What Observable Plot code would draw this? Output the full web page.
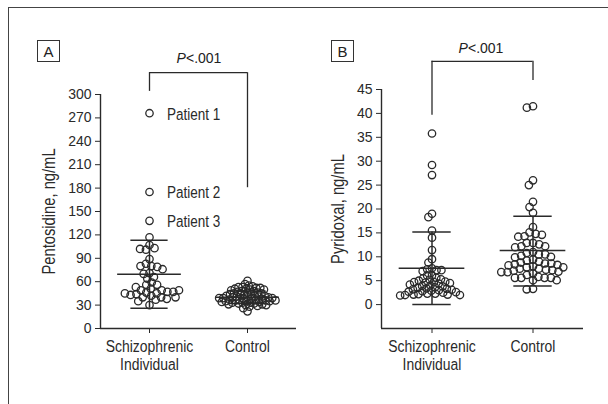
<!DOCTYPE html>
<html><head><meta charset="utf-8">
<script src="https://cdn.jsdelivr.net/npm/d3@7"></script>
<script src="https://cdn.jsdelivr.net/npm/@observablehq/plot@0.6"></script>
<style>
body{margin:0;background:#fff;}
#wrap{position:relative;width:608px;height:404px;overflow:hidden;color:#222;}
#frame{position:absolute;left:8px;top:7px;width:640px;height:440px;border-left:1.6px solid #444;border-top:1.6px solid #444;}
.panel{position:absolute;top:0;}
.box{position:absolute;top:40px;width:21px;height:20px;border:1px solid #333;font-family:"Liberation Sans",Arial,sans-serif;font-size:15px;text-align:center;line-height:21px;}
.ptxt{position:absolute;font-family:"Liberation Sans",Arial,sans-serif;font-size:14px;line-height:14px;transform:translateX(-50%);white-space:nowrap;}
</style></head>
<body><div id="wrap"><div id="frame"></div>
<div id="pa" class="panel" style="left:0"></div>
<div id="pb" class="panel" style="left:304px"></div>
<div class="box" style="left:37px">A</div>
<div class="box" style="left:331px">B</div>
<div class="ptxt" style="left:199px;top:51px"><i>P</i>&lt;.001</div>
<div class="ptxt" style="left:481px;top:41px"><i>P</i>&lt;.001</div>
</div>
<script>
// ---- data ----
const groups = ["Schizophrenic", "Control"];
const groupLabels = ["Schizophrenic\nIndividual", "Control"];

// Panel A: pentosidine, ng/mL
const pentoSchizo = [276, 175, 138, 117, 107, 101, 103, 102, 89, 83, 80, 79, 80, 76, 71, 70, 66, 64, 59, 56, 56, 51, 46, 42, 49, 45, 40, 49, 44, 37, 47, 43, 30, 47, 40, 53, 45, 38, 49, 40, 35];
const pentoControl = [61, 57, 55, 54, 53, 53, 52, 52, 51, 51, 50, 50, 49, 48, 48, 47, 46, 46, 45, 45, 44, 44, 43, 43, 42, 42, 42, 41, 41, 40, 40, 40, 39, 39, 39, 38, 38, 38, 37, 37, 37, 36, 36, 36, 35, 35, 35, 34, 34, 33, 33, 33, 32, 32, 31, 31, 30, 30, 29, 28, 26, 22];
const pentoMean = [69.5, 40];
const pentoUpper = [113, 48];
const pentoLower = [26, 32];
const pentoTicks = [0, 30, 60, 90, 120, 150, 180, 210, 240, 270, 300];
const pentoDomain = [0, 300];
const patientNames = ["Patient 1", "Patient 2", "Patient 3"];
const patientValues = [276, 175, 138];
const pentoBracket = {top: 328, left: 304, right: 180.5};

// Panel B: pyridoxal, ng/mL
const pyrSchizo = [35.8, 29.2, 27.1, 19.0, 18.3, 15.5, 14.0, 11.4, 9.5, 8.8, 7.6, 7.4, 7.2, 7.2, 7.0, 6.1, 6.1, 5.6, 5.5, 5.3, 5.2, 5.0, 4.8, 4.7, 4.7, 4.6, 4.5, 4.4, 4.2, 4.0, 3.9, 3.8, 3.6, 3.5, 3.4, 3.3, 3.2, 3.1, 3.0, 2.9, 2.8, 2.7, 2.6, 2.5, 2.3, 2.3, 2.2, 2.1, 2.1, 2.0, 2.0, 1.9];
const pyrControl = [41.5, 41.2, 26.0, 25.0, 21.5, 20.4, 19.2, 16.2, 15.1, 14.8, 14.6, 14.3, 14.2, 12.9, 12.9, 12.6, 12.2, 12.2, 12.0, 11.0, 10.8, 10.5, 10.5, 10.2, 10.0, 9.9, 9.4, 9.2, 9.0, 8.8, 8.6, 8.6, 8.4, 8.3, 8.2, 8.0, 7.8, 7.8, 7.5, 7.5, 7.3, 7.2, 7.1, 6.9, 6.8, 6.8, 6.5, 6.2, 5.8, 5.6, 5.6, 5.6, 5.6, 5.1, 5.1, 3.3, 3.2];
const pyrMean = [7.6, 11.3];
const pyrUpper = [15.2, 18.5];
const pyrLower = [0, 3.9];
const pyrTicks = [0, 5, 10, 15, 20, 25, 30, 35, 40, 45];
const pyrDomain = [-5, 45];
const pyrBracket = {top: 50.9, left: 39.6, right: 46.9};

// ---- drawing ----
const ink = "#2a2a2a";
const sans = "'Liberation Sans', Arial, sans-serif";

function panel(o) {
  const values = o.values;
  const summ = groups.map((g, i) => ({g, mean: o.mean[i], upper: o.upper[i], lower: o.lower[i]}));
  const first = [{g: groups[0]}], second = [{g: groups[1]}];
  const marks = [
    Plot.ruleY(groups, {fx: d => d, y: o.domain[0], stroke: ink, strokeWidth: 1.4}),
    Plot.ruleX(first, {fx: "g", x: 0, y1: o.domain[0], y2: o.domain[1], stroke: ink, strokeWidth: 1.4}),
    Plot.axisY({ticks: o.ticks, tickSize: 5, tickPadding: 4, fontSize: 14, fontFamily: sans, label: null}),
    Plot.axisFx({anchor: "bottom", tickSize: 5, tickPadding: 6, label: null, fontSize: 17, fontFamily: sans, lineHeight: 1.04,
      className: "cond", tickFormat: g => groupLabels[groups.indexOf(g)]}),
    Plot.text(first, {fx: "g", text: [o.label], frameAnchor: "left", textAnchor: "middle", rotate: -90, dx: o.labelDx, fontSize: 18, fontFamily: sans, fill: ink, className: "cond"}),
    Plot.ruleY(summ, {fx: "g", y: "mean", x1: 0.175, x2: 0.825, stroke: ink, strokeWidth: 1.5}),
    Plot.ruleY(summ, {fx: "g", y: "upper", x1: 0.31, x2: 0.69, stroke: ink, strokeWidth: 1.5}),
    Plot.ruleY(summ, {fx: "g", y: "lower", x1: 0.31, x2: 0.69, stroke: ink, strokeWidth: 1.5}),
    Plot.ruleX(summ, {fx: "g", x: 0.5, y1: "lower", y2: "upper", stroke: ink, strokeWidth: 1.5}),
    // bracket
    Plot.ruleY(first, {fx: "g", y: o.bracket.top, x1: 0.5, x2: 1, stroke: ink, strokeWidth: 1.3}),
    Plot.ruleY(second, {fx: "g", y: o.bracket.top, x1: 0, x2: 0.5, stroke: ink, strokeWidth: 1.3}),
    Plot.ruleX(first, {fx: "g", x: 0.5, y1: o.bracket.left, y2: o.bracket.top, stroke: ink, strokeWidth: 1.3}),
    Plot.ruleX(second, {fx: "g", x: 0.5, y1: o.bracket.right, y2: o.bracket.top, stroke: ink, strokeWidth: 1.3})
  ];
  groups.forEach((g, i) => {
    const pts = values[i].map(v => ({g, v}));
    marks.push(Plot.dot(pts, Plot.dodgeX({anchor: "middle", r: o.layoutR[i], padding: o.pad[i]},
      {fx: "g", y: "v", r: 3.7, stroke: ink, fill: "none", strokeWidth: 1.3})));
  });
  if (o.extra) marks.push(...o.extra);
  const svg = Plot.plot({
    width: o.width, height: 404,
    marginLeft: o.ml, marginRight: o.mr, marginTop: o.mt, marginBottom: 76,
    fx: {domain: groups, padding: 0},
    x: {domain: [0, 1], axis: null},
    y: {domain: o.domain},
    style: {fontFamily: sans, color: ink, background: "transparent", overflow: "visible"},
    marks
  });
  // condensed typeface look: squeeze the label texts horizontally
  svg.querySelectorAll("g.cond > text, g[class$='cond'] > text").forEach(t => {
    const tr = t.getAttribute("transform");
    if (tr) t.setAttribute("transform", tr + " scale(0.82,1)");
    else {
      const x = +(t.getAttribute("x") || 0), y = +(t.getAttribute("y") || 0);
      t.removeAttribute("x"); t.removeAttribute("y");
      t.setAttribute("transform", `translate(${x},${y}) scale(0.82,1)`);
    }
  });
  return svg;
}

const patients = patientNames.map((t, i) => ({g: groups[0], t, v: patientValues[i]}));

document.getElementById("pa").append(panel({
  values: [pentoSchizo, pentoControl], mean: pentoMean, upper: pentoUpper, lower: pentoLower,
  ticks: pentoTicks, domain: pentoDomain, label: "Pentosidine, ng/mL", labelDx: -51.5,
  bracket: pentoBracket, width: 300, ml: 99, mr: 4, mt: 94,
  layoutR: [2.8, 2.0], pad: [0.3, 0],
  extra: [Plot.text(patients, {fx: "g", x: 0.5, y: "v", text: "t", dx: 17.5, dy: 1, textAnchor: "start", fontSize: 16.5, fontFamily: sans, fill: ink, className: "cond"})]
}));

document.getElementById("pb").append(panel({
  values: [pyrSchizo, pyrControl], mean: pyrMean, upper: pyrUpper, lower: pyrLower,
  ticks: pyrTicks, domain: pyrDomain, label: "Pyridoxal, ng/mL", labelDx: -43.5,
  bracket: pyrBracket, width: 304, ml: 77, mr: 25, mt: 89,
  layoutR: [2.45, 3.15], pad: [0, 0]
}));
</script>
</body></html>
